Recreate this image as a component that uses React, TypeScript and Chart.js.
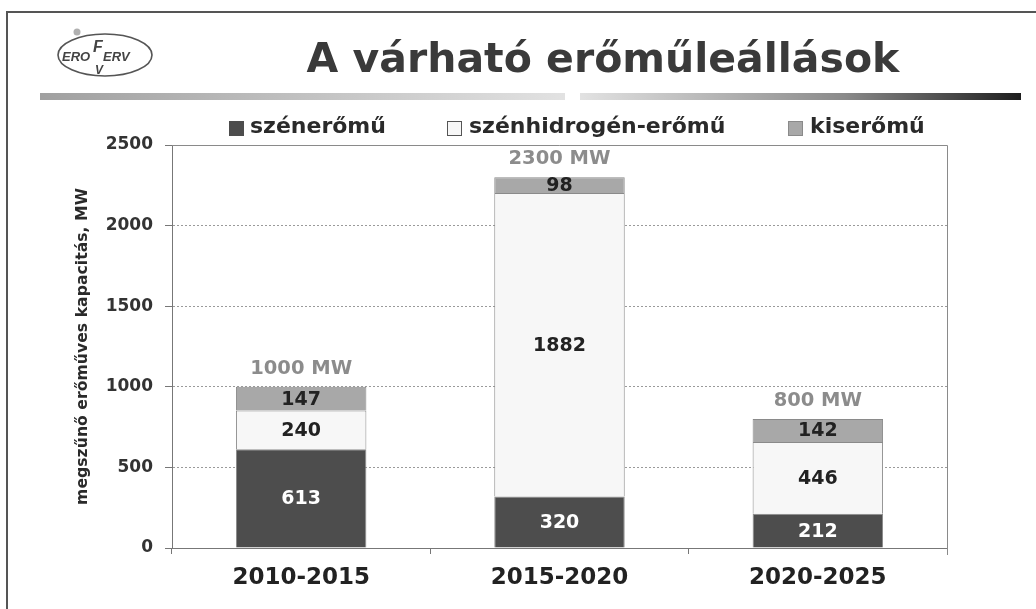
import React, { useEffect, useRef } from "react";
import { Chart, registerables } from "chart.js";

Chart.register(...registerables);

const chartTitle = "A várható erőműleállások";
const categories = ["2010-2015", "2015-2020", "2020-2025"];
const seriesNames = ["szénerőmű", "szénhidrogén-erőmű", "kiserőmű"];
const coalValues = [613, 320, 212];
const hydrocarbonValues = [240, 1882, 446];
const smallPlantValues = [147, 98, 142];
const totalLabels = ["1000 MW", "2300 MW", "800 MW"];
const yTickValues = [0, 500, 1000, 1500, 2000, 2500];
const yAxisTitle = "megszűnő erőműves kapacitás, MW";

const seriesColors = ["#4d4d4d", "#f7f7f7", "#a8a8a8"];
const valueTextColors = ["#ffffff", "#222222", "#222222"];
const FONT = "'DejaVu Sans', 'Liberation Sans', sans-serif";

const valueLabelPlugin = {
  id: "valueLabels",
  afterDatasetsDraw(chart: any) {
    const ctx = chart.ctx;
    ctx.save();
    ctx.textAlign = "center";
    ctx.textBaseline = "middle";
    ctx.font = `bold 19px ${FONT}`;
    chart.data.datasets.forEach((ds: any, di: number) => {
      const meta = chart.getDatasetMeta(di);
      meta.data.forEach((el: any, i: number) => {
        const p = el.getProps(["x", "y", "base"], true);
        ctx.fillStyle = valueTextColors[di];
        ctx.fillText(String(ds.data[i]), p.x, (p.y + p.base) / 2 + 1);
      });
    });
    const topMeta = chart.getDatasetMeta(chart.data.datasets.length - 1);
    ctx.fillStyle = "#8c8c8c";
    ctx.font = `bold 19.5px ${FONT}`;
    topMeta.data.forEach((el: any, i: number) => {
      ctx.fillText(totalLabels[i], el.x, el.y - 18);
    });
    ctx.restore();
  },
};

const framePlugin = {
  id: "plotFrame",
  beforeDatasetsDraw(chart: any) {
    const { ctx, chartArea } = chart;
    ctx.save();
    ctx.strokeStyle = "#8a8a8a";
    ctx.lineWidth = 1;
    ctx.beginPath();
    ctx.moveTo(chartArea.left, chartArea.top + 0.5);
    ctx.lineTo(chartArea.right + 0.5, chartArea.top + 0.5);
    ctx.lineTo(chartArea.right + 0.5, chartArea.bottom + 7);
    ctx.stroke();
    ctx.restore();
  },
};

function Logo() {
  return (
    <svg
      width={110}
      height={56}
      style={{ position: "absolute", left: 50, top: 26 }}
      viewBox="0 0 110 56"
    >
      <circle cx={27} cy={6} r={3.5} fill="#b0b0b0" />
      <ellipse cx={55} cy={29} rx={47} ry={21} fill="none" stroke="#555" strokeWidth={1.6} />
      <text x={12} y={35} fontFamily="Liberation Sans" fontStyle="italic" fontWeight="bold" fontSize={13} fill="#444">
        ERO
      </text>
      <text x={43} y={26} fontFamily="Liberation Sans" fontStyle="italic" fontWeight="bold" fontSize={16} fill="#444">
        F
      </text>
      <text x={53} y={35} fontFamily="Liberation Sans" fontStyle="italic" fontWeight="bold" fontSize={13} fill="#444">
        ERV
      </text>
      <text x={45} y={48} fontFamily="Liberation Sans" fontStyle="italic" fontWeight="bold" fontSize={12} fill="#444">
        V
      </text>
    </svg>
  );
}

function Legend() {
  const items = [
    { left: 229, textLeft: 250, border: "#4d4d4d" },
    { left: 447, textLeft: 469, border: "#555" },
    { left: 788, textLeft: 810, border: "#8a8a8a" },
  ];
  return (
    <>
      {seriesNames.map((name, i) => (
        <React.Fragment key={name}>
          <div
            style={{
              position: "absolute",
              left: items[i].left,
              top: 121,
              width: 13,
              height: 13,
              background: seriesColors[i],
              border: `1px solid ${items[i].border}`,
            }}
          />
          <div
            style={{
              position: "absolute",
              left: items[i].textLeft,
              top: 113,
              font: `bold 22px ${FONT}`,
              lineHeight: "26px",
              color: "#2a2a2a",
              whiteSpace: "nowrap",
            }}
          >
            {name}
          </div>
        </React.Fragment>
      ))}
    </>
  );
}

export default function App() {
  const canvasRef = useRef<HTMLCanvasElement | null>(null);

  useEffect(() => {
    if (!canvasRef.current) return;
    const datasets = [coalValues, hydrocarbonValues, smallPlantValues].map((vals, i) => ({
      label: seriesNames[i],
      data: vals,
      backgroundColor: seriesColors[i],
      borderColor: "#8a8a8a",
      borderWidth: 1,
      barPercentage: 0.505,
      categoryPercentage: 1,
    }));
    const chart = new Chart(canvasRef.current, {
      type: "bar",
      data: { labels: categories, datasets },
      plugins: [framePlugin, valueLabelPlugin],
      options: {
        animation: false,
        responsive: false,
        maintainAspectRatio: false,
        layout: { padding: { top: 145, left: 0, right: 89, bottom: 16 } },
        plugins: {
          legend: { display: false },
          tooltip: { enabled: false },
          title: { display: false },
        },
        scales: {
          x: {
            stacked: true,
            offset: true,
            grid: {
              display: true,
              offset: true,
              drawOnChartArea: false,
              drawTicks: true,
              tickLength: 6,
              tickColor: "#777",
            },
            border: { display: true, color: "#777", width: 1 },
            ticks: {
              color: "#222",
              padding: 10,
              font: { family: FONT, size: 23, weight: "bold" },
            },
            afterFit(scale: any) {
              scale.height = 45;
            },
          },
          y: {
            stacked: true,
            min: 0,
            max: 2500,
            afterBuildTicks(scale: any) {
              scale.ticks = yTickValues.map((v) => ({ value: v }));
            },
            grid: {
              color: "#9a9a9a",
              lineWidth: 1,
              drawTicks: true,
              tickLength: 7,
              tickColor: "#777",
              tickBorderDash: [],
            },
            border: { display: true, color: "#777", width: 1, dash: [2, 2] },
            ticks: {
              color: "#333",
              padding: 12,
              font: { family: FONT, size: 17, weight: "bold" },
              callback: (v: any) => String(v),
            },
            title: {
              display: true,
              text: yAxisTitle,
              color: "#2a2a2a",
              font: { family: FONT, size: 15.7, weight: "bold" },
              padding: { top: 74, bottom: 0 },
            },
            afterFit(scale: any) {
              scale.width = 172;
            },
          },
        },
      } as any,
    });
    return () => chart.destroy();
  }, []);

  return (
    <div
      style={{
        position: "fixed",
        left: 0,
        top: 0,
        width: 1036,
        height: 609,
        background: "#ffffff",
        overflow: "hidden",
      }}
    >
      <canvas
        ref={canvasRef}
        width={1036}
        height={609}
        style={{ position: "absolute", left: 0, top: 0, display: "block" }}
      />
      <div style={{ position: "absolute", left: 6, top: 11, width: 1040, height: 2, background: "#555" }} />
      <div style={{ position: "absolute", left: 6, top: 11, width: 2, height: 620, background: "#555" }} />
      <Logo />
      <div
        style={{
          position: "absolute",
          left: 253,
          width: 700,
          top: 34,
          textAlign: "center",
          font: `bold 41px ${FONT}`,
          lineHeight: "48px",
          color: "#3a3a3a",
          whiteSpace: "nowrap",
        }}
      >
        {chartTitle}
      </div>
      <div
        style={{
          position: "absolute",
          left: 40,
          top: 93,
          width: 525,
          height: 7,
          background: "linear-gradient(to right, #a0a0a0, #e2e2e2)",
        }}
      />
      <div
        style={{
          position: "absolute",
          left: 580,
          top: 93,
          width: 441,
          height: 7,
          background: "linear-gradient(to right, #e2e2e2, #8a8a8a 60%, #1e1e1e)",
        }}
      />
      <Legend />
    </div>
  );
}
